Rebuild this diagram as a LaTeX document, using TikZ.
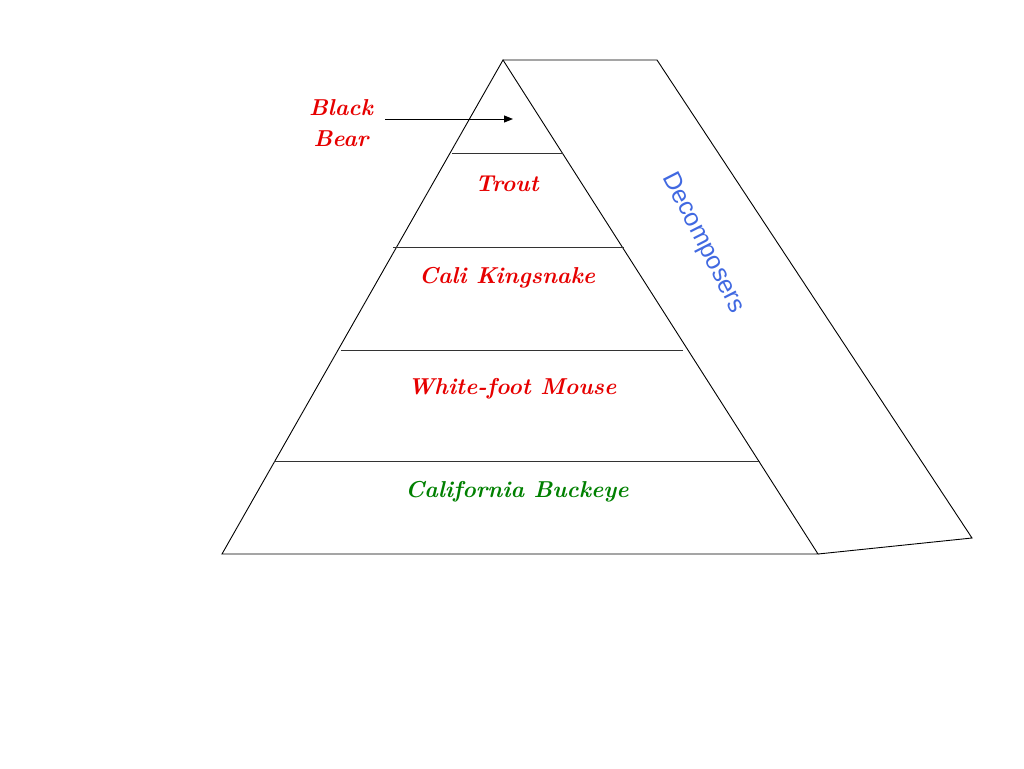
\documentclass[tikz,border=0pt]{standalone}
\usepackage{fontspec}
\newfontfamily\arialfont{Liberation Sans}
\usetikzlibrary{arrows.meta}
\definecolor{lblred}{RGB}{230,0,0}
\definecolor{lblgreen}{RGB}{0,128,0}
\definecolor{decblue}{RGB}{65,105,225}
\tikzset{
  edge/.style={draw=black, line width=0.9pt, line join=miter},
  level/.style={draw=black!80, line width=0.9pt},
  lbl/.style={text=lblred, font=\fontsize{23}{31}\selectfont\bfseries\itshape, align=center, inner sep=0pt},
}
\begin{document}
\begin{tikzpicture}[x=1pt,y=-1pt]
\useasboundingbox (0,0) rectangle (1024,768);
% pyramid
\coordinate (apex) at (503,60);
\coordinate (bl) at (222,554);
\coordinate (br) at (818,554);
\coordinate (tr) at (657,60);
\coordinate (far) at (972,538);
\draw[edge] (apex) -- (bl) -- (br) -- cycle;
\draw[edge] (apex) -- (tr) -- (far) -- (br);
% level lines
\draw[level] (452,153) -- (563,153);
\draw[level] (393,247) -- (624,247);
\draw[level] (341,350) -- (683,350);
\draw[level] (274,461) -- (760,461);
% labels
\node[lbl] (bear) at (341,123) {Black\\Bear};
\node[lbl] (trout) at (507,184) {Trout};
\node[lbl] (snake) at (507,278) {Cali Kingsnake};
\node[lbl] (mouse) at (512,389) {White-foot Mouse};
\node[lbl, text=lblgreen] (buckeye) at (517,492) {California Buckeye};
\node[text=decblue, font=\fontsize{25}{30}\selectfont\arialfont, rotate=-63, inner sep=0pt] (dec) at (703,243) {Decomposers};
% arrow
\coordinate (arrowend) at (513,119);
\draw[line width=1pt, -{Triangle[length=9pt,width=7pt]}] (385,119) -- (arrowend);
\end{tikzpicture}
\end{document}
